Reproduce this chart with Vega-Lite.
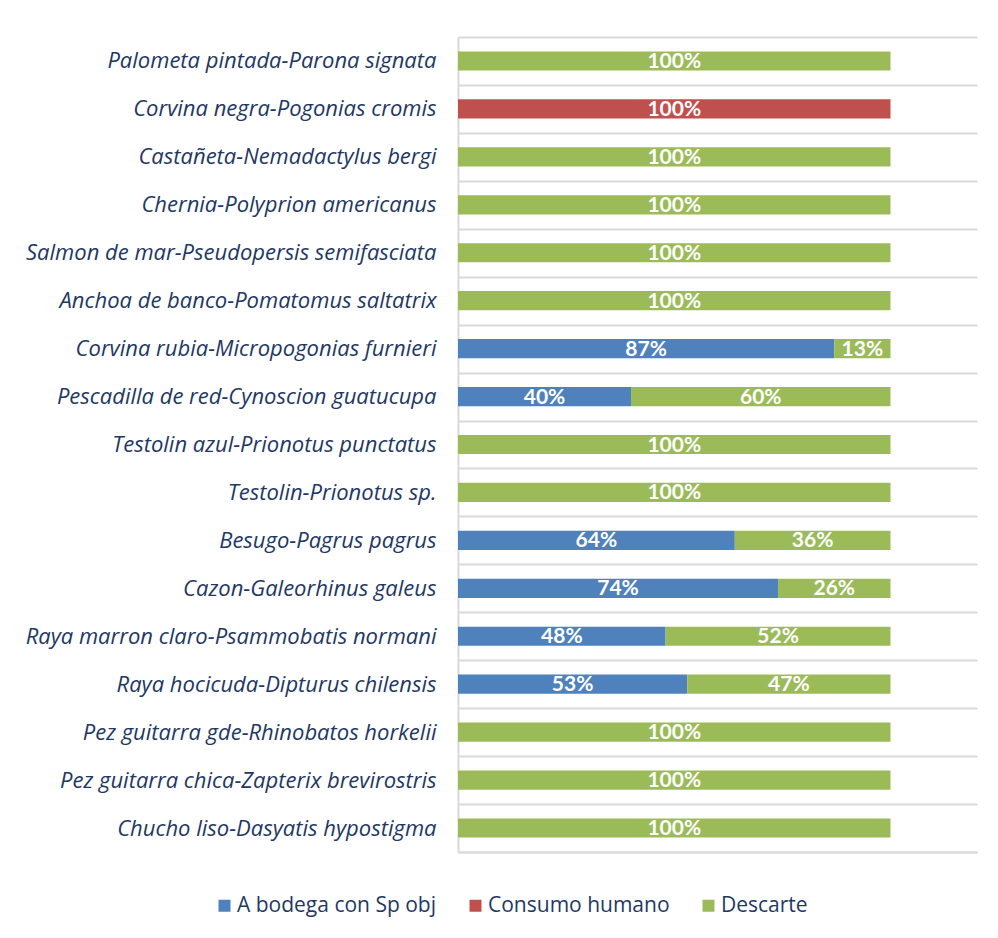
{
  "$schema": "https://vega.github.io/schema/vega-lite/v6.json",
  "autosize": {"type": "none"},
  "padding": {"left": 458, "top": 37, "right": 21, "bottom": 86},
  "width": 519,
  "height": 815,
  "background": "white",
  "config": {
    "view": {"stroke": null},
    "font": "Open Sans"
  },
  "data": {
    "values": [
      {"species": "Palometa pintada-Parona signata", "category": "Descarte", "value": 1.0},
      {"species": "Corvina negra-Pogonias cromis", "category": "Consumo humano", "value": 1.0},
      {"species": "Castañeta-Nemadactylus bergi", "category": "Descarte", "value": 1.0},
      {"species": "Chernia-Polyprion americanus", "category": "Descarte", "value": 1.0},
      {"species": "Salmon de mar-Pseudopersis semifasciata", "category": "Descarte", "value": 1.0},
      {"species": "Anchoa de banco-Pomatomus saltatrix", "category": "Descarte", "value": 1.0},
      {"species": "Corvina rubia-Micropogonias furnieri", "category": "A bodega con Sp obj", "value": 0.87},
      {"species": "Corvina rubia-Micropogonias furnieri", "category": "Descarte", "value": 0.13},
      {"species": "Pescadilla de red-Cynoscion guatucupa", "category": "A bodega con Sp obj", "value": 0.40},
      {"species": "Pescadilla de red-Cynoscion guatucupa", "category": "Descarte", "value": 0.60},
      {"species": "Testolin azul-Prionotus punctatus", "category": "Descarte", "value": 1.0},
      {"species": "Testolin-Prionotus sp.", "category": "Descarte", "value": 1.0},
      {"species": "Besugo-Pagrus pagrus", "category": "A bodega con Sp obj", "value": 0.64},
      {"species": "Besugo-Pagrus pagrus", "category": "Descarte", "value": 0.36},
      {"species": "Cazon-Galeorhinus galeus", "category": "A bodega con Sp obj", "value": 0.74},
      {"species": "Cazon-Galeorhinus galeus", "category": "Descarte", "value": 0.26},
      {"species": "Raya marron claro-Psammobatis normani", "category": "A bodega con Sp obj", "value": 0.48},
      {"species": "Raya marron claro-Psammobatis normani", "category": "Descarte", "value": 0.52},
      {"species": "Raya hocicuda-Dipturus chilensis", "category": "A bodega con Sp obj", "value": 0.53},
      {"species": "Raya hocicuda-Dipturus chilensis", "category": "Descarte", "value": 0.47},
      {"species": "Pez guitarra gde-Rhinobatos horkelii", "category": "Descarte", "value": 1.0},
      {"species": "Pez guitarra chica-Zapterix brevirostris", "category": "Descarte", "value": 1.0},
      {"species": "Chucho liso-Dasyatis hypostigma", "category": "Descarte", "value": 1.0}
    ]
  },
  "transform": [
    {"stack": "value", "groupby": ["species"], "sort": [{"field": "category", "order": "ascending"}], "as": ["v0", "v1"]}
  ],
  "encoding": {
    "y": {
      "field": "species",
      "type": "nominal",
      "sort": null,
      "title": null,
      "scale": {"paddingInner": 0, "paddingOuter": 0},
      "axis": {
        "tickBand": "extent",
        "grid": true,
        "gridColor": "#d9d9d9",
        "gridWidth": 2,
        "domain": true,
        "domainColor": "#d9d9d9",
        "domainWidth": 2,
        "ticks": false,
        "labelPadding": 22,
        "labelFont": "Open Sans",
        "labelFontSize": 22,
        "labelFontStyle": "italic",
        "labelColor": "#1f3864",
        "labelLimit": 500
      }
    }
  },
  "layer": [
    {
      "mark": {"type": "bar", "height": {"band": 0.4}},
      "encoding": {
        "x": {
          "field": "v0",
          "type": "quantitative",
          "scale": {"domain": [0, 1.2], "nice": false},
          "axis": {"labels": false, "ticks": false, "grid": false, "title": null, "domain": true, "domainColor": "#d9d9d9", "domainWidth": 2}
        },
        "x2": {"field": "v1"},
        "color": {
          "field": "category",
          "type": "nominal",
          "scale": {
            "domain": ["A bodega con Sp obj", "Consumo humano", "Descarte"],
            "range": ["#4f81bd", "#c0504d", "#9bbb59"]
          },
          "legend": {
            "title": null,
            "orient": "none",
            "direction": "horizontal",
            "legendX": -244,
            "legendY": 858,
            "symbolType": "square",
            "symbolSize": 144,
            "symbolStrokeWidth": 0,
            "labelFont": "Open Sans",
            "labelFontSize": 21,
            "labelColor": "#1f3864",
            "labelOffset": 2,
            "labelLimit": 400,
            "columnPadding": 28
          }
        }
      }
    },
    {
      "transform": [
        {"fold": ["v0", "v1"], "as": ["edge", "pos"]}
      ],
      "mark": {"type": "text", "color": "white", "fontWeight": "bold", "fontSize": 21, "font": "Lato", "baseline": "middle", "align": "center", "dy": 1},
      "encoding": {
        "x": {"aggregate": "mean", "field": "pos", "type": "quantitative"},
        "detail": {"field": "category"},
        "text": {"aggregate": "max", "field": "value", "type": "quantitative", "format": ".0%"}
      }
    }
  ]
}
